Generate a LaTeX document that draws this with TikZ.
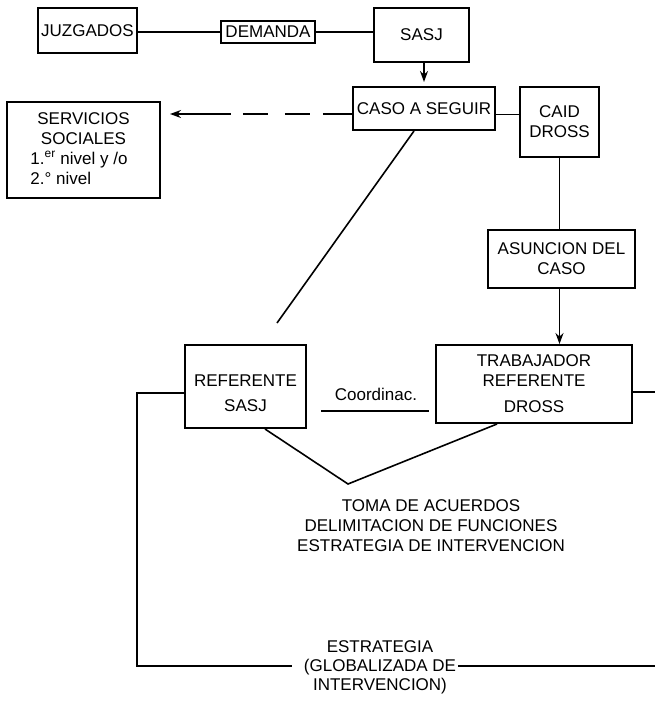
\documentclass[tikz,border=0pt]{standalone}
\usepackage{fontspec}
\setmainfont{Liberation Sans}
\usetikzlibrary{arrows.meta,calc}
\begin{document}
\begin{tikzpicture}[x=1pt,y=-1pt,
  every node/.style={font=\fontsize{17}{20}\selectfont, inner sep=0pt},
  box/.style={draw, line width=2pt, rectangle, align=center},
  link/.style={line width=1.6pt},
  tip/.style={-{Stealth[length=11pt,width=8pt]}},
  arr/.style={link, tip},
  backarr/.style={link, {Stealth[length=11pt,width=8pt]}-},
  longdash/.style={dash pattern=on 54pt off 12pt on 25pt off 17pt on 25pt off 13pt on 60pt off 1pt},
]
\useasboundingbox (0,0) rectangle (655,702);

% boxes
\node[box, minimum width=99pt, minimum height=45pt] (juz) at (87.5,30.5) {JUZGADOS};
\node[box, minimum width=94pt, minimum height=22pt] (dem) at (268,32) {DEMANDA};
\node[box, minimum width=95pt, minimum height=54pt] (sasj) at (421.5,35) {SASJ};
\node[box, minimum width=142pt, minimum height=43pt] (caso) at (424,108.5) {CASO A SEGUIR};
\node[box, minimum width=79pt, minimum height=70pt] (caid) at (559.5,122) {CAID\\DROSS};
\node[box, minimum width=153pt, minimum height=96pt] (serv) at (83.5,150)
  {\begin{tabular}{@{}l@{}}\multicolumn{1}{@{}c@{}}{SERVICIOS}\\
   \multicolumn{1}{@{}c@{}}{SOCIALES}\\
   1.\textsuperscript{er} nivel y /o\hspace*{9pt}\\
   2.° nivel\end{tabular}};
\node[box, minimum width=147pt, minimum height=58pt] (asun) at (561.5,259) {ASUNCION DEL\\CASO};
\node[box, minimum width=196pt, minimum height=78pt] (trab) at (534,384) {TRABAJADOR\\REFERENTE\\[6pt]DROSS};
\node[box, minimum width=121pt, minimum height=83pt] (refs) at (245.5,386.5) {\rule{0pt}{26pt}REFERENTE\\[5pt]SASJ};

% free texts
\node[anchor=base] (coordtxt) at (376,400) {Coordinac.};
\node[align=center] (toma) at (431,526) {TOMA DE ACUERDOS\\DELIMITACION DE FUNCIONES\\ESTRATEGIA DE INTERVENCION};
\node[align=center, font=\fontsize{17}{19}\selectfont] (strat) at (380,667.7) {ESTRATEGIA\\(GLOBALIZADA DE\\INTERVENCION)};

% loose ends
\coordinate (servtip) at (170,114);
\coordinate (diagend) at (277,323);
\coordinate (vtx) at (348,484);
\coordinate (loopL) at (137,666);
\coordinate (gapL) at (292,666);
\coordinate (gapR) at (458,666);
\coordinate (edgeB) at (655,666);
\coordinate (edgeT) at (655,392);

% connectors
\draw[link] (juz.east |- dem.west) -- (dem.west);
\draw[link] (dem.east) -- (sasj.west |- dem.east);
\draw[arr, shorten >=4pt] (sasj.south -| caso.north) -- (caso.north);
\draw[link] ($(caso.east)+(0,6)$) -- ($(caid.west)+(0,-7.5)$);
\draw[backarr, longdash] (servtip) -- ($(caso.west)+(0,5.5)$);
\draw[link] ($(caso.south)+(-10,0)$) -- (diagend);
\draw[link] (caid.south) -- (caid.south |- asun.north);
\draw[arr] (caid.south |- asun.south) -- (caid.south |- trab.north);
\draw[link] ($(refs.east)+(14,24.5)$) -- ($(trab.west)+(-6,27)$);
\draw[link] ($(refs.south)+(19.5,0)$) -- (vtx) -- ($(trab.south)+(-37,0)$);
\draw[link] ($(refs.west)+(0,6.5)$) -| (loopL) -- (gapL);
\draw[link] (gapR) -- (edgeB);
\draw[link] ($(trab.east)+(0,8)$) -- (edgeT);
\end{tikzpicture}
\end{document}
